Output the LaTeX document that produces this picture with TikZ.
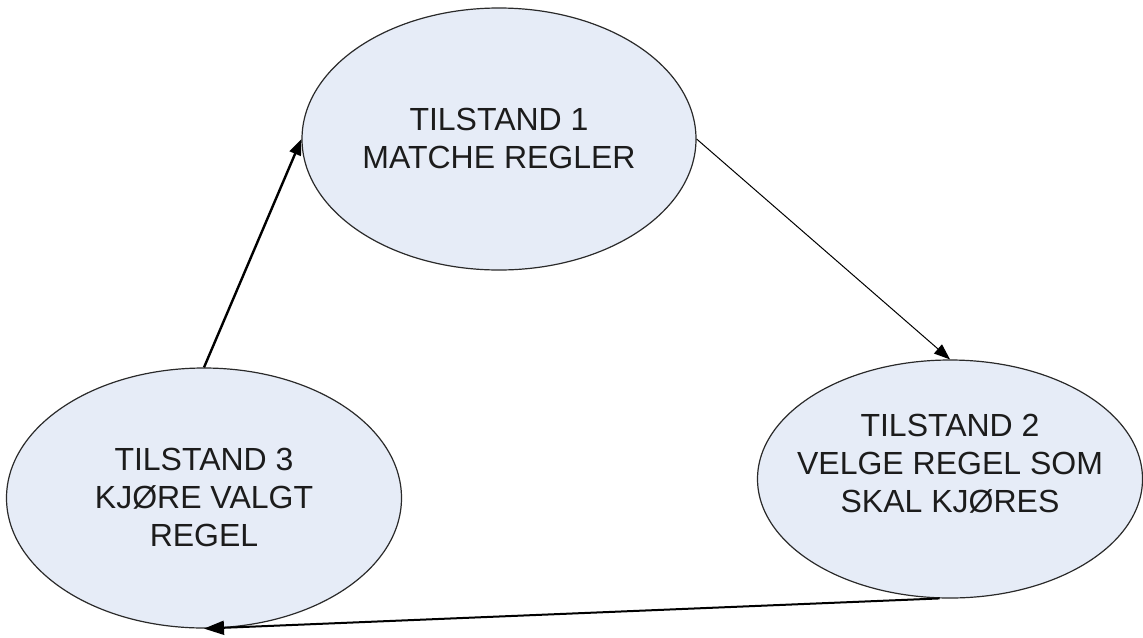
\documentclass[tikz,border=0pt]{standalone}
\usepackage{fontspec}
\setmainfont{Liberation Sans}
\usetikzlibrary{shapes.geometric,arrows.meta}
\definecolor{statefill}{HTML}{E6ECF7}
\definecolor{stateline}{HTML}{2A2A2A}
\definecolor{statetext}{HTML}{1C1C1C}
\begin{document}
\begin{tikzpicture}[x=0.5pt,y=-0.5pt,
  state/.style={ellipse, draw=stateline, line width=0.6pt, fill=statefill,
    inner sep=0pt},
  statelabel/.style={align=center, text=statetext, inner sep=0pt,
    font=\fontsize{16pt}{19pt}\selectfont},
  flow/.style={draw=black, -{Triangle[length=8pt,width=6pt]}},
]
\useasboundingbox (0,0) rectangle (1143,637);
% the three states of the rule engine
\node[state, minimum width=197pt, minimum height=131pt] (s1) at (499,139) {};
\node[statelabel] (t1) at (499,138) {TILSTAND 1\\MATCHE REGLER};
\node[state, minimum width=192.5pt, minimum height=119pt] (s2) at (950,479) {};
\node[statelabel] (t2) at (950,464) {TILSTAND 2\\VELGE REGEL SOM\\SKAL KJØRES};
\node[state, minimum width=197.5pt, minimum height=130pt] (s3) at (204,498) {};
\node[statelabel] (t3) at (204,497) {TILSTAND 3\\KJØRE VALGT\\REGEL};
% transitions between the states
\draw[flow, line width=0.5pt] (s1.east) -- (s2.north);
\draw[flow, line width=1pt, -{Triangle[length=10pt,width=7pt]}] (s2.265) -- (s3.south);
\draw[flow, line width=1.2pt] (s3.north) -- (s1.west);
\end{tikzpicture}
\end{document}
